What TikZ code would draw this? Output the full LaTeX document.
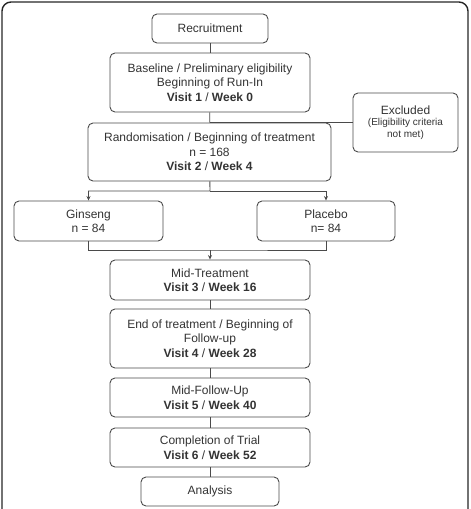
\documentclass[tikz,border=0pt]{standalone}
\usepackage{fontspec}
\setmainfont{Liberation Sans}
\usetikzlibrary{arrows.meta}
\definecolor{boxline}{HTML}{4A4A4A}
\definecolor{boxtext}{HTML}{333333}
\begin{document}
\begin{tikzpicture}[x=1pt,y=-1pt,
    >={Stealth[length=4.5pt,width=4pt]},
    box/.style={draw=boxline,rounded corners=5pt,align=center,inner sep=0pt,
      text=boxtext,font=\fontsize{12}{14.5}\selectfont,line width=0.9pt},
    link/.style={draw=boxline,line width=0.9pt}]
        \useasboundingbox (0,0) rectangle (471,509);
        \draw[line width=1.4pt,black!85,rounded corners=9pt] (2,2) rectangle (468,530);
        \node[box,minimum width=116pt,minimum height=29pt] (rec) at (210,28.5) {Recruitment};
        \node[box,minimum width=200pt,minimum height=59pt] (base) at (210,82.5)
          {Baseline / Preliminary eligibility\\Beginning of Run-In\\\textbf{Visit 1} / \textbf{Week 0}};
        \node[box,minimum width=105pt,minimum height=59pt,font=\fontsize{10}{11.5}\selectfont] (excl) at (405.5,122.5)
          {\fontsize{12}{13}\selectfont Excluded\\(Eligibility criteria\\not met)};
        \node[box,minimum width=243pt,minimum height=58pt] (rand) at (209.5,152)
          {Randomisation / Beginning of treatment\\n = 168\\\textbf{Visit 2} / \textbf{Week 4}};
        \node[box,minimum width=149pt,minimum height=40pt] (gin) at (88.5,221) {Ginseng\\n = 84};
        \node[box,minimum width=138pt,minimum height=40pt] (plac) at (326,221) {Placebo\\n= 84};
        \node[box,minimum width=200pt,minimum height=40pt] (mid) at (210,280)
          {Mid-Treatment\\\textbf{Visit 3} / \textbf{Week 16}};
        \node[box,minimum width=200pt,minimum height=59pt] (endt) at (210,338.5)
          {End of treatment / Beginning of\\Follow-up\\\textbf{Visit 4} / \textbf{Week 28}};
        \node[box,minimum width=200pt,minimum height=39pt] (mfu) at (210,397.5)
          {Mid-Follow-Up\\\textbf{Visit 5} / \textbf{Week 40}};
        \node[box,minimum width=200pt,minimum height=39pt] (comp) at (210,447.5)
          {Completion of Trial\\\textbf{Visit 6} / \textbf{Week 52}};
        \node[box,minimum width=138pt,minimum height=29pt] (ana) at (210,491.5) {Analysis};
        \coordinate (split) at (210,191);
        \coordinate (merge) at (210,250);
        \draw[link] (rec) -- (base);
        \draw[link] (base) -- (rand);
        \draw[link] (rand.north) -- (excl.west |- rand.north);
        \draw[link,->] (rand) -- (split) -| (gin);
        \draw[link,->] (split) -| (plac);
        \draw[link] (gin) |- (merge) -| (plac);
        \draw[link,->] (merge) -- (mid);
        \draw[link] (mid) -- (endt);
        \draw[link] (endt) -- (mfu);
        \draw[link] (mfu) -- (comp);
        \draw[link] (comp) -- (ana);
      \end{tikzpicture}
\end{document}
